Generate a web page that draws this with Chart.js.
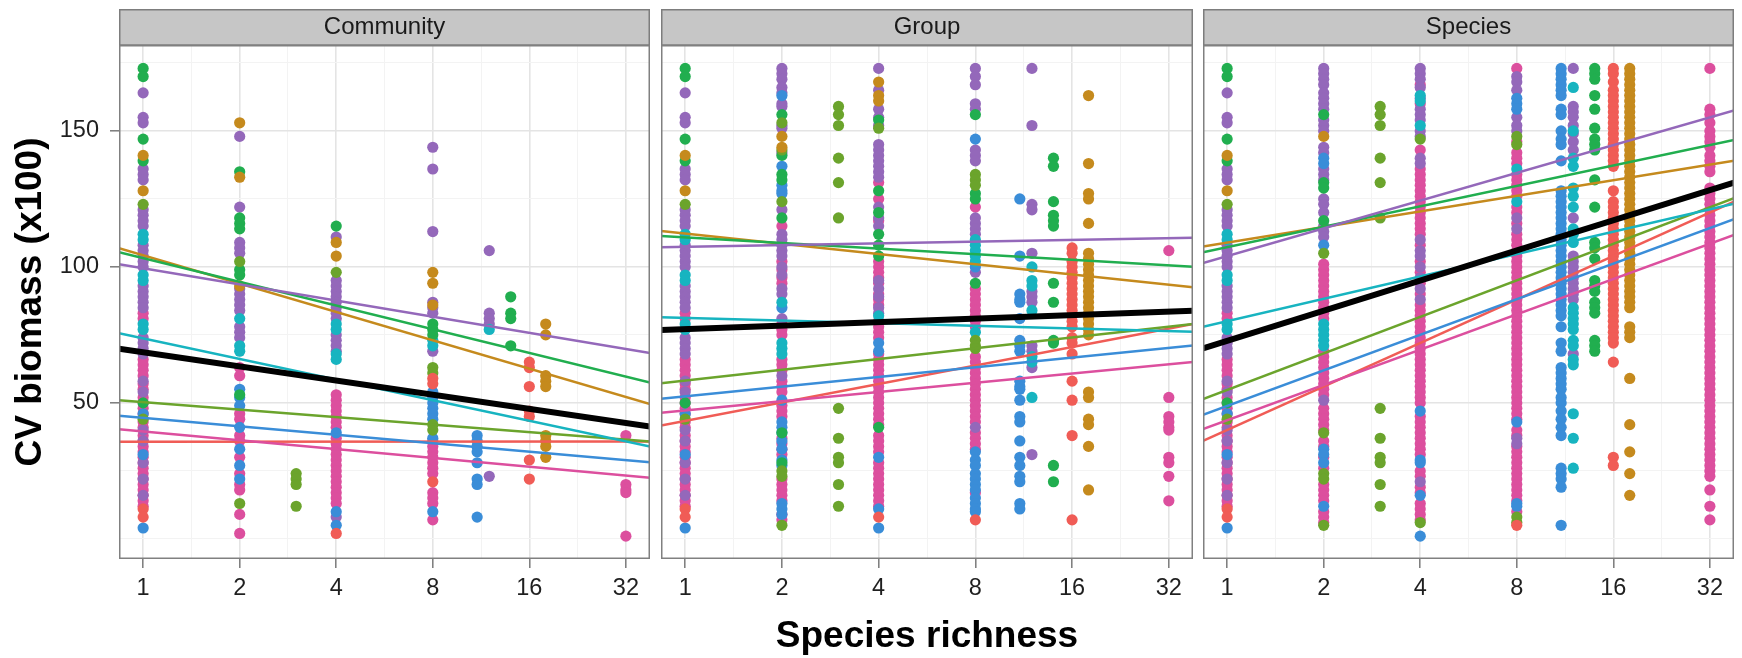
<!DOCTYPE html>
<html><head><meta charset="utf-8">
<script src="https://cdn.jsdelivr.net/npm/chart.js@4.4.1/dist/chart.umd.min.js"></script>
<style>
html,body{margin:0;padding:0;background:#fff;}
body{width:1742px;height:658px;position:relative;overflow:hidden;}
.pane{position:absolute;top:0;height:658px;}
canvas{display:block;}
</style></head><body>
<div class="pane" style="left:0px;width:650px"><canvas id="c0" width="650" height="658"></canvas></div>
<div class="pane" style="left:661px;width:532px"><canvas id="c1" width="532" height="658"></canvas></div>
<div class="pane" style="left:1203px;width:531px"><canvas id="c2" width="531" height="658"></canvas></div>
<script>
// ---------- axis definitions ----------
const xTicksMajor = [1, 2, 4, 8, 16, 32];
const xTicksMinor = [1.414, 2.828, 5.657, 11.31, 22.63];
const yTicksMajor = [50, 100, 150];
const yTicksMinor = [0, 25, 75, 125, 175];
const xRange = [0.8409, 38.05];   // log2 range -0.25 .. 5.25
const yRange = [-7.4, 181.6];

// ---------- monocultures (richness 1) – identical in all facets ----------
const monoPink   = [83, 81, 66, 64, 62, 60, 57, 55, 52, 50, 48, 46, 43, 41, 38, 36, 34, 32, 30, 28, 26, 24, 22, 20, 18, 16, 14, 12];
const monoPurple = [164, 155, 153, 136, 134, 132, 121, 119, 117, 115, 108, 106, 104, 102, 100, 93, 91, 89, 87, 85, 74, 72, 70, 68, 58, 54, 40, 36, 28, 22, 16];
const monoBlue   = [46, 31, 4];
const monoCyan   = [112, 110, 97, 95, 79, 77];
const monoGreen  = [173, 170, 147, 139, 50];
const monoOlive  = [123, 44];
const monoGold   = [141, 128];
const monoRed    = [11, 8];

// ---------- Community (richness -> CV values) ----------
const comPink   = {2:[63,60,46,44,38,36,30,24,20,18,9,2], 4:[53,51,49,47,45,43,41,37,35,33,31,29,27,25,23,21,19,17,15,13], 8:[36,34,32,30,28,26,24,17,15,13,7], 32:[38,20,18,17,1]};
const comPurple = {2:[148,122,109,107,105,92,90,88,86,84,78,76,74], 4:[111,95,93,91,89,87,85,83,81,75,73,71,69,8], 8:[144,136,113,87,85,83,69], 12:[106,83,81,79,23]};
const comBlue   = {2:[55,52,49,41,33,27,22], 4:[39,10,5], 8:[54,52,50,48,46,44,37,10], 11:[38,36,34,32,28,22,20,8]};
const comCyan   = {2:[81,71,69], 4:[79,77,68,66], 8:[73,71], 12:[77]};
const comGreen  = {2:[135,118,116,114,99,97,53], 4:[115], 8:[79,77,75], 14:[89,83,81,71]};
const comOlive  = {2:[102,13], 3:[24,22,20,12], 4:[98], 8:[63,61,42,40]};
const comGold   = {2:[153,133,93], 4:[109,104], 8:[98,94,86], 18:[79,75,60,58,56,38,36,34,30]};
const comRed    = {4:[2], 8:[59,57,21], 16:[65,63,56,47,45,29,22]};

// ---------- Group ----------
const grpPink   = {2:[115,102,99,96,94,79,77,75,66,64,62,58,56,54,49,47,45,37,35,33,31,22,20,18,16,14,9,7], 4:[131,125,117,102,100,98,96,94,90,88,86,80,78,76,74,68,66,64,62,60,58,56,54,52,50,48,46,44,42,38,36,34,32,28,26,24,22,20,18,16,14,12], 8:[122,92,90,88,86,84,82,80,78,67,65,63,61,59,57,55,53,51,49,47,45,43,39,37,35,33,17], 32:[106,52,45,43,41,40,30,28,23,14]};
const grpPurple = {2:[173,171,169,166,164,160,159,152,151,142,121,112,110,108,106,104,100,97,92,90,81,60], 4:[173,165,158,155,152,145,143,141,139,137,135,133,122,118,115,95,92,89,85,83], 8:[173,170,167,160,158,143,141,139,118,116,114,112,98,41], 12:[173,152,123,121,105,91,89,87,71,69,63,31]};
const grpBlue   = {2:[163,137,130,128,127,85,51,43,41,39,36,33,29,27,13,11,9], 4:[72,69,30,11,4], 8:[147,100,32,29,27,24,22,20,18,15,13,11,10], 11:[125,104,90,88,87,81,73,71,69,58,56,55,51,45,43,36,30,27,23,21,13,11]};
const grpCyan   = {2:[87,72,70,68], 4:[82], 8:[110,108,106,104,102,76], 12:[100,95,93,84,67,65,52]};
const grpGreen  = {2:[156,141,134,132,118,39,28], 4:[154,128,120,112,108,104,41], 8:[156,127,125,94], 14:[140,137,124,119,117,115,94,87,73,72,27,21]};
const grpOlive  = {2:[153,143,124,25,23,5], 3:[159,156,152,140,131,118,48,37,30,28,20,12], 4:[151], 8:[134,132,130,73,71,70]};
const grpGold   = {2:[148,144], 4:[168,163,161], 18:[163,138,127,125,116,105,103,101,99,97,95,93,91,89,87,85,83,81,79,77,75,54,52,44,42,34,18]};
const grpRed    = {4:[8], 8:[7], 16:[107,105,102,100,98,96,94,92,90,88,86,84,82,80,78,74,72,68,58,51,38,7]};

// ---------- Species ----------
const spcPink   = {2:[101,99,97,95,93,91,89,87,85,83,81,69,67,65,63,61,59,57,55,53,48,46,44,42,40,36,34,30,26,20,18,16,14,10,8,6],
                   4:[167,160,143,136,134,132,130,128,126,124,122,120,118,116,114,112,108,102,98,94,90,86,84,82,80,78,76,74,72,70,68,66,64,62,60,58,56,54,52,50,45,43,41,39,37,35,33,31,25,23,19,17,13,11,9,7],
                   8:[173,146,142,140,138,134,132,130,128,126,122,120,116,112,110,108,106,104,102,100,98,96,94,92,90,88,86,84,82,80,78,76,74,72,70,68,66,64,62,60,58,56,54,52,50,48,46,44,40,38,34,32,30,28,26,24,22,20,18,16,14,10],
                   32:[173,158,156,153,150,148,146,144,141,139,137,135,129,127,125,123,121,119,117,115,113,111,109,107,105,103,101,99,97,95,93,91,89,87,85,83,81,79,77,75,73,71,69,67,65,63,61,59,57,55,53,51,49,47,45,43,41,39,37,35,33,31,29,27,25,23,18,12,7]};
const spcPurple = {2:[173,171,169,167,164,162,160,158,154,152,150,144,142,136,134,132,125,123,120,115,113,111,51], 4:[173,171,169,166,162,158,156,154,150,148,140,138,110,106,104,100,96,92,88,21], 8:[170,168,165,155,152,150,118,114,37,35], 12:[173,159,157,155,152,149,146,143,118,104,102,100,98,96,94,92,90,88,68]};
const spcBlue   = {2:[140,138,108,33,31,28,12], 4:[47,29,28,16,1], 8:[162,160,158,43,13,12],
                   11:[173,171,169,167,165,163,158,156,150,147,145,139,128,126,124,122,120,118,116,114,112,110,108,106,104,102,100,98,96,94,92,90,88,86,84,82,78,72,69,63,61,59,57,55,52,50,47,44,41,38,26,24,22,19,5]};
const spcCyan   = {2:[79,77,75,73,71], 4:[163,161,152], 8:[136,124], 12:[166,150,140,137,129,126,122,114,112,109,85,83,81,79,77,73,71,66,64,46,37,26]};
const spcGreen  = {2:[156,131,129,117], 14:[173,171,169,163,158,151,147,145,143,132,122,109,107,103,95,93,91,87,85,83,73,71,69]};
const spcOlive  = {2:[105,39,24,22,5], 3:[159,156,152,140,131,118,48,37,30,28,20,12], 4:[147,6], 8:[148,145,8,6]};
const spcGold   = {2:[148], 18:[173,171,169,167,165,163,161,159,157,155,153,151,149,147,145,143,141,139,137,135,133,131,129,127,125,123,121,119,117,115,113,111,109,107,105,103,101,99,97,95,93,91,89,87,85,78,76,74,59,42,32,24,16]};
const spcRed    = {8:[5], 16:[173,171,168,165,163,161,159,157,155,153,151,149,147,145,143,141,139,137,128,124,122,120,118,116,114,112,110,108,106,104,102,100,98,96,94,92,90,88,86,84,82,80,78,76,74,72,65,30,27]};

// ---------- fitted lines: values at the two ends of the x range ----------
const lineX = [0.8409, 38.05];
const comLines = {red:[35.7,35.8], gold:[106.9,49.6], olive:[51,35.8], green:[105.4,57.5], cyan:[75.6,34], blue:[45.3,28.2], purple:[101,68.3], pink:[40.3,22.5]};
const comOverall = [69.9, 41.3];
const grpLines = {red:[41.7,79], gold:[113.2,92.5], olive:[57.2,79], green:[111.4,100.1], cyan:[81.5,76.2], blue:[51.5,71.1], purple:[107.2,110.7], pink:[46.4,65]};
const grpOverall = [76.8, 83.9];
const spcLines = {red:[36,124], gold:[107.5,139], olive:[51.4,125.3], green:[105.4,146.7], cyan:[78,123.2], blue:[45.6,117.6], purple:[101.4,157.5], pink:[40.4,111.8]};
const spcOverall = [70, 131];

const facetNames = ['Community', 'Group', 'Species'];

// ---------- styling ----------
const COLORS = {red:'#F05C56', gold:'#C58A1D', olive:'#6BA42C', green:'#21AE4F', cyan:'#17B4C0', blue:'#3A8DD8', purple:'#9468BA', pink:'#DC4F9E'};
const colorOrder = ['pink','purple','blue','cyan','green','olive','gold','red']; // bottom -> top
const FONT = "'Liberation Sans', Arial, Helvetica, sans-serif";
Chart.defaults.font.family = FONT;

const monos = {pink:monoPink, purple:monoPurple, blue:monoBlue, cyan:monoCyan, green:monoGreen, olive:monoOlive, gold:monoGold, red:monoRed};
const facetPts = [
  {pink:comPink, purple:comPurple, blue:comBlue, cyan:comCyan, green:comGreen, olive:comOlive, gold:comGold, red:comRed},
  {pink:grpPink, purple:grpPurple, blue:grpBlue, cyan:grpCyan, green:grpGreen, olive:grpOlive, gold:grpGold, red:grpRed},
  {pink:spcPink, purple:spcPurple, blue:spcBlue, cyan:spcCyan, green:spcGreen, olive:spcOlive, gold:spcGold, red:spcRed}
];
const facetLines = [comLines, grpLines, spcLines];
const facetOverall = [comOverall, grpOverall, spcOverall];

function buildPts(mono, obj) {
  const out = mono.map(y => ({x: 1, y}));
  Object.keys(obj).forEach(k => obj[k].forEach(y => out.push({x: +k, y})));
  return out;
}

const panelDeco = {
  id: 'panelDeco',
  beforeDraw(chart) {
    const {ctx, chartArea: a} = chart;
    ctx.save();
    ctx.fillStyle = '#c6c6c6';
    ctx.fillRect(a.left, 9, a.right - a.left, 36);
    ctx.strokeStyle = '#7d7d7d';
    ctx.lineWidth = 1.5;
    ctx.strokeRect(a.left + 0.75, 9.75, a.right - a.left - 1.5, 35.25);
    ctx.restore();
  },
  afterDraw(chart) {
    const {ctx, chartArea: a} = chart;
    ctx.save();
    ctx.strokeStyle = '#808080';
    ctx.lineWidth = 1.5;
    ctx.strokeRect(a.left + 0.75, a.top + 0.75, a.right - a.left - 1.5, a.bottom - a.top - 1.5);
    ctx.restore();
  }
};

const isMajorX = v => xTicksMajor.includes(v);
const isMajorY = v => yTicksMajor.includes(v);

facetNames.forEach((name, fi) => {
  const datasets = [];
  colorOrder.forEach((c, i) => {
    datasets.push({
      label: name + ' ' + c,
      data: buildPts(monos[c], facetPts[fi][c]),
      backgroundColor: COLORS[c], borderColor: COLORS[c],
      pointRadius: 5.6, pointBorderWidth: 0, pointHoverRadius: 5.6,
      order: 20 - i
    });
  });
  colorOrder.forEach(c => {
    datasets.push({
      label: name + ' fit ' + c,
      data: lineX.map((x, j) => ({x, y: facetLines[fi][c][j]})),
      showLine: true, borderColor: COLORS[c], backgroundColor: COLORS[c],
      borderWidth: 2.5, pointRadius: 0, fill: false, order: 1
    });
  });
  datasets.push({
    label: name + ' overall fit',
    data: lineX.map((x, j) => ({x, y: facetOverall[fi][j]})),
    showLine: true, borderColor: '#000', backgroundColor: '#000',
    borderWidth: 6, pointRadius: 0, fill: false, order: 0
  });

  const showY = fi === 0;
  new Chart(document.getElementById('c' + fi), {
    type: 'scatter',
    data: {datasets},
    plugins: [panelDeco],
    options: {
      responsive: false, animation: false, devicePixelRatio: 1, events: [],
      layout: {padding: 0, autoPadding: false},
      plugins: {
        legend: {display: false}, tooltip: {enabled: false},
        title: {display: true, text: name, fullSize: false, color: '#1a1a1a',
                font: {size: 24, weight: 'normal', lineHeight: 1.5}, padding: {top: 9, bottom: 0}}
      },
      scales: {
        x: {
          type: 'logarithmic', min: xRange[0], max: xRange[1], bounds: 'data',
          afterBuildTicks: s => { s.ticks = xTicksMajor.concat(xTicksMinor).sort((a, b) => a - b).map(v => ({value: v})); },
          afterFit: s => { s.height = 99; },
          border: {display: false},
          grid: {
            color: c => isMajorX(c.tick && c.tick.value) ? '#e4e4e4' : '#f3f3f3',
            lineWidth: c => isMajorX(c.tick && c.tick.value) ? 1.6 : 1,
            tickColor: c => isMajorX(c.tick && c.tick.value) ? '#7a7a7a' : 'rgba(0,0,0,0)',
            tickLength: 9, tickWidth: 1.5, drawTicks: true
          },
          ticks: {
            autoSkip: false, maxRotation: 0, minRotation: 0, padding: 6, color: '#1f1f1f',
            font: {size: 23.5, lineHeight: 1.2},
            callback: v => isMajorX(v) ? String(v) : ''
          },
          title: {display: fi === 1, text: 'Species richness', color: '#000',
                  font: {size: 37, weight: 'bold', lineHeight: 1}, padding: {top: 0, bottom: 3}}
        },
        y: {
          type: 'linear', min: yRange[0], max: yRange[1], bounds: 'data',
          afterBuildTicks: s => { s.ticks = yTicksMinor.concat(yTicksMajor).sort((a, b) => a - b).map(v => ({value: v})); },
          afterFit: s => { s.width = showY ? 119 : 0; },
          border: {display: false},
          grid: {
            color: c => isMajorY(c.tick && c.tick.value) ? '#e4e4e4' : '#f3f3f3',
            lineWidth: c => isMajorY(c.tick && c.tick.value) ? 1.6 : 1,
            tickColor: c => isMajorY(c.tick && c.tick.value) ? '#7a7a7a' : 'rgba(0,0,0,0)',
            tickLength: 9, tickWidth: 1.5, drawTicks: showY
          },
          ticks: {
            display: showY, padding: 11, color: '#1f1f1f',
            font: {size: 23.5, lineHeight: 1.2},
            callback: v => isMajorY(v) ? String(v) : ''
          },
          title: {display: showY, text: 'CV biomass (x100)', color: '#000',
                  font: {size: 37, weight: 'bold', lineHeight: 1}, padding: {top: 12, bottom: 0}}
        }
      }
    }
  });
});
</script>
</body></html>
